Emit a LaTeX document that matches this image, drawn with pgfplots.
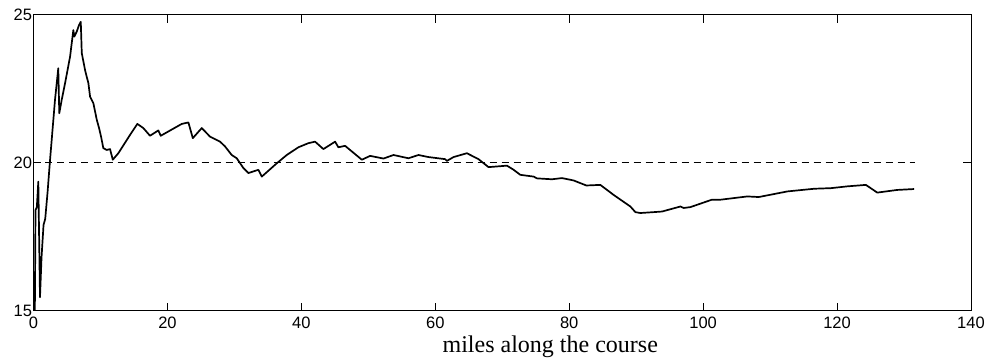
\documentclass[border=0pt]{standalone}
\usepackage{pgfplots}
\pgfplotsset{compat=1.18}
\usepackage{fontspec}
\setmainfont{Liberation Serif}
\newfontfamily\ticksans{Liberation Sans}
\begin{document}
\begin{tikzpicture}
\begin{axis}[
  scale only axis,
  width=937.5pt, height=296pt,
  xmin=0, xmax=140, ymin=15, ymax=25,
  xtick={0,20,...,140}, ytick={15,20,25},
  tick align=inside, tick pos=both,
  major tick length=8pt,
  axis line style={line width=0.9pt},
  every tick/.style={line width=0.9pt, black},
  /pgf/number format/assume math mode=true,
  tick label style={font=\ticksans\fontsize{16.5}{18}\selectfont},
  xticklabel style={yshift=-2.5pt},
  yticklabel style={xshift=2pt},
  xlabel={miles along the course},
  xlabel style={font=\fontsize{24}{26}\selectfont, anchor=base, at={(axis description cs:0.5,0)}, xshift=48pt, yshift=-41.7pt},
]
\addplot[black, line width=0.8pt, dash pattern=on 7pt off 5pt] coordinates {(0,20) (131.7,20)};
\addplot[black, line width=1.7pt, line join=round] coordinates {
(0.2,15.0) (0.3,18.4) (0.5,18.5) (0.72,19.36) (0.97,15.45) (1.2,16.8) (1.5,17.9) (1.75,18.1)
(2.1,19.0) (2.47,20.09) (3.21,22.12) (3.7,23.19) (3.85,21.67) (4.21,22.12) (4.71,22.68)
(5.46,23.58) (5.95,24.48) (6.1,24.26) (6.46,24.43) (6.8,24.65) (7.06,24.76) (7.21,23.70)
(7.7,23.13) (8.2,22.68) (8.45,22.23) (8.94,22.01) (9.45,21.45) (9.79,21.17) (10.09,20.88)
(10.43,20.49) (10.94,20.43) (11.43,20.46) (11.84,20.10) (12.67,20.32) (14.42,20.94)
(15.51,21.31) (16.4,21.17) (17.4,20.91) (18.64,21.09) (19.0,20.91) (22.14,21.31)
(23.13,21.36) (23.79,20.83) (25.13,21.17) (26.36,20.88) (27.86,20.71) (28.6,20.55)
(29.6,20.26) (30.35,20.15) (31.34,19.82) (32.09,19.65) (33.58,19.76) (34.09,19.53)
(36.33,19.98) (37.82,20.26) (39.55,20.52) (41.05,20.66) (42.05,20.71) (43.29,20.46)
(45.04,20.71) (45.53,20.52) (46.53,20.57) (49.03,20.10) (50.27,20.23) (52.26,20.14)
(53.76,20.26) (55.99,20.15) (57.49,20.26) (58.98,20.19) (61.48,20.12) (61.73,20.06)
(62.72,20.19) (64.72,20.32) (66.45,20.12) (67.95,19.85) (70.7,19.90) (71.7,19.76)
(72.7,19.59) (74.69,19.53) (75.19,19.47) (77.43,19.44) (78.92,19.48) (80.66,19.40)
(81.66,19.31) (82.56,19.23) (84.65,19.25) (86.64,18.91) (89.13,18.52) (89.88,18.33)
(90.62,18.30) (92.61,18.33) (93.86,18.35) (96.6,18.52) (97.1,18.47) (98.1,18.50)
(101.3,18.75) (102.6,18.75) (106.6,18.86) (108.3,18.84) (112.6,19.03) (116.6,19.12)
(119.1,19.14) (121.5,19.20) (124.3,19.25) (126.0,18.99) (129.0,19.08) (131.5,19.11)
};
\end{axis}
\pgfresetboundingbox
\path[use as bounding box] ([xshift=-33.5pt,yshift=-52pt]current axis.south west) rectangle ([xshift=19pt,yshift=14.7pt]current axis.north east);
\end{tikzpicture}
\end{document}
